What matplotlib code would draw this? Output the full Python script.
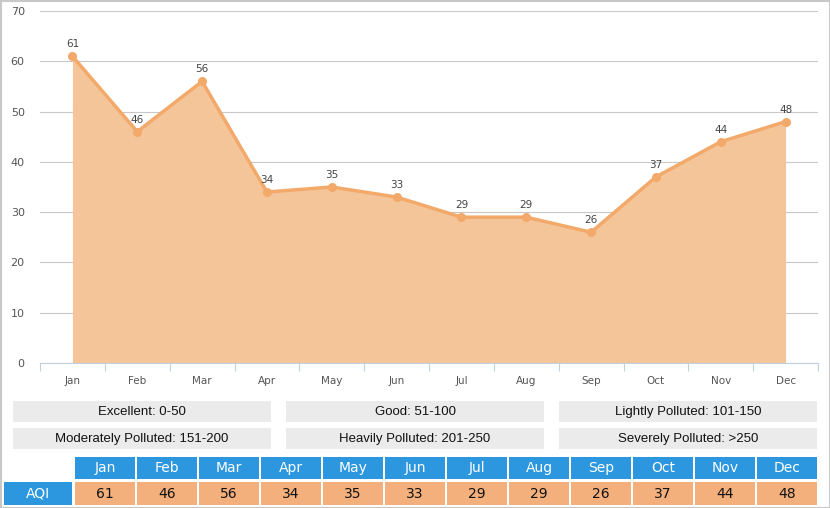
import matplotlib
matplotlib.use("Agg")
import matplotlib.pyplot as plt
from matplotlib.patches import Rectangle
import numpy as np

months = ["Jan", "Feb", "Mar", "Apr", "May", "Jun", "Jul", "Aug", "Sep", "Oct", "Nov", "Dec"]
aqi = [61, 46, 56, 34, 35, 33, 29, 29, 26, 37, 44, 48]
levels = ["Excellent: 0-50", "Good: 51-100", "Lightly Polluted: 101-150",
          "Moderately Polluted: 151-200", "Heavily Polluted: 201-250", "Severely Polluted: >250"]
yticks = [0, 10, 20, 30, 40, 50, 60, 70]

W, H = 830, 508
fig = plt.figure(figsize=(W / 100, H / 100), dpi=100)

def rect(x0, y0, x1, y1):
    return [x0 / W, 1 - y1 / H, (x1 - x0) / W, (y1 - y0) / H]

ax = fig.add_axes(rect(40, 11, 818, 363))
x = np.arange(len(months))
line_c = "#F2A96A"
fill_c = "#F5C59A"
ax.fill_between(x, aqi, 0, color=fill_c, lw=0)
ax.plot(x, aqi, color=line_c, lw=2.5, marker="o", ms=5.5, zorder=3)
for xi, v in zip(x, aqi):
    ax.annotate(str(v), (xi, v), xytext=(0, 5), textcoords="offset points",
                ha="center", va="bottom", fontsize=7.5, color="#444444")
ax.set_xlim(-0.5, 11.5)
ax.set_ylim(0, 70)
ax.set_yticks(yticks)
ax.set_yticklabels([str(t) for t in yticks])
ax.grid(axis="y", color="#C8C8C8", lw=0.8)
ax.set_axisbelow(True)
for s in ["top", "right", "left"]:
    ax.spines[s].set_visible(False)
ax.spines["bottom"].set_color("#C0D0E0")
ax.set_xticks(np.arange(-0.5, 12, 1), minor=False)
ax.set_xticklabels([])
ax.set_xticks(x, minor=True)
ax.set_xticklabels(months, minor=True)
ax.tick_params(axis="x", which="major", length=6, color="#C0D0E0", direction="out")
ax.tick_params(axis="x", which="minor", length=0, labelsize=7.5, labelcolor="#555555", pad=9)
ax.tick_params(axis="y", length=0, labelsize=8, labelcolor="#555555", pad=11)

# Level boxes
cols = [(13, 271), (286, 544), (559, 817)]
rows = [(401, 422), (428, 449)]
for i, lab in enumerate(levels):
    r, c = divmod(i, 3)
    x0, x1 = cols[c]
    y0, y1 = rows[r]
    fig.add_artist(Rectangle((x0 / W, 1 - y1 / H), (x1 - x0) / W, (y1 - y0) / H,
                             transform=fig.transFigure, color="#EBEBEB", lw=0))
    fig.text((x0 + x1) / 2 / W, 1 - (y0 + y1 + 1) / 2 / H, lab, ha="center", va="center",
             fontsize=9.5, family="Liberation Sans", color="#111111")

# Table
blue = "#2C97DF"
orange = "#F3B07C"
hy = (457, 479)
vy = (482, 505)
fig.add_artist(Rectangle((4 / W, 1 - vy[1] / H), (72 - 4) / W, (vy[1] - vy[0]) / H,
                         transform=fig.transFigure, color=blue, lw=0))
fig.text(38 / W, 1 - (vy[0] + vy[1]) / 2 / H, "AQI", ha="center", va="center",
         fontsize=10, family="DejaVu Sans", color="white")
x_start, cw, gap = 75, 60, 2
for i, (m, v) in enumerate(zip(months, aqi)):
    x0 = x_start + i * (cw + gap)
    x1 = x0 + cw
    fig.add_artist(Rectangle((x0 / W, 1 - hy[1] / H), cw / W, (hy[1] - hy[0]) / H,
                             transform=fig.transFigure, color=blue, lw=0))
    fig.add_artist(Rectangle((x0 / W, 1 - vy[1] / H), cw / W, (vy[1] - vy[0]) / H,
                             transform=fig.transFigure, color=orange, lw=0))
    fig.text((x0 + x1) / 2 / W, 1 - (hy[0] + hy[1]) / 2 / H, m, ha="center", va="center",
             fontsize=10, family="DejaVu Sans", color="white")
    fig.text((x0 + x1) / 2 / W, 1 - (vy[0] + vy[1]) / 2 / H, str(v), ha="center", va="center",
             fontsize=10, family="DejaVu Sans", color="#111111")

# outer border
fig.add_artist(Rectangle((0.5 / W, 0.5 / H), (W - 1) / W, (H - 1) / H,
                         transform=fig.transFigure, fill=False, edgecolor="#C8C8C8", lw=1.5))

fig.savefig("out.png", dpi=100)
